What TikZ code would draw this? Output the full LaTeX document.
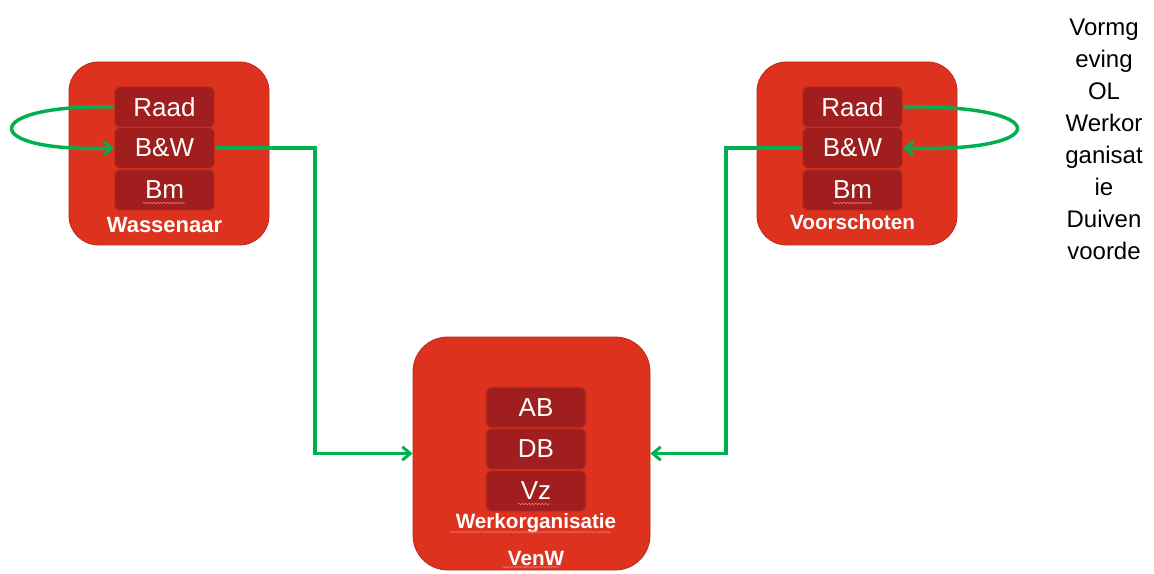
\documentclass[tikz,border=0pt]{standalone}
\usepackage{fontspec}
\setmainfont{Liberation Sans}
\usetikzlibrary{arrows.meta,decorations.pathmorphing}
\definecolor{boxred}{RGB}{220,50,30}
\definecolor{innerred}{RGB}{160,30,30}
\definecolor{linegreen}{RGB}{0,176,80}
\definecolor{wavyred}{RGB}{235,110,110}
\tikzset{
  bigbox/.style={fill=boxred, draw=boxred!85!black, line width=0.6pt, rounded corners=22pt, minimum width=150pt, minimum height=137.25pt},
  cbox/.style={fill=boxred, draw=boxred!85!black, line width=0.6pt, rounded corners=26pt, minimum width=177.75pt, minimum height=174.75pt},
  inbox/.style={fill=innerred, draw=boxred!70!innerred, line width=0.8pt, rounded corners=4.5pt, minimum width=75pt, minimum height=30.75pt, inner sep=0pt, text=white, font=\fontsize{19.5}{21}\selectfont},
  lbl/.style={text=white, font=\bfseries\fontsize{15.5}{18}\selectfont, inner sep=0pt},
  conn/.style={draw=linegreen, line width=2.6pt},
  arr/.style={-{Straight Barb[length=6pt,width=10pt,line width=2.2pt]}},
  wavy/.style={draw=wavyred, line width=0.5pt, decorate, decoration={snake, segment length=2.5pt, amplitude=0.6pt}}
}
\begin{document}
\begin{tikzpicture}[x=0.75pt,y=-0.75pt]
\useasboundingbox (0,0) rectangle (1154,574);
% big boxes
\node[bigbox] (wbox) at (169,153.5) {};
\node[bigbox] (vbox) at (857,153.5) {};
\node[cbox] (cbox) at (531.5,453.5) {};
% Wassenaar
\node[inbox] (wraad) at (164.5,107) {Raad};
\node[inbox] (wbw) at (164.5,148) {B\&W};
\node[inbox] (wbm) at (164.5,190) {Bm};
\node[lbl, font=\bfseries\fontsize{16.5}{18}\selectfont] (wlbl) at (164.5,225) {Wassenaar};
% Voorschoten
\node[inbox] (vraad) at (852.5,107) {Raad};
\node[inbox] (vbw) at (852.5,148) {B\&W};
\node[inbox] (vbm) at (852.5,190) {Bm};
\node[lbl] (vlbl) at (852.5,222) {Voorschoten};
% centre
\node[inbox] (ab) at (536,407.5) {AB};
\node[inbox] (db) at (536,449) {DB};
\node[inbox] (vz) at (536,491) {Vz};
\node[lbl] (wolbl) at (536,523) {Werkorganisatie};
\node[lbl] (venw) at (536,558) {VenW};
% wavy underlines
\draw[wavy] (143,203) -- (185,203);
\draw[wavy] (833,203) -- (872,203);
\draw[wavy] (518,504) -- (550,504);
\draw[wavy] (450,532) -- (611,532);
\draw[wavy] (502,567) -- (559,567);
% right side text
\node[align=center, font=\fontsize{18}{24}\selectfont, inner sep=0pt] (side) at (1104,139)
  {Vormg\\eving\\OL\\Werkor\\ganisat\\ie\\Duiven\\voorde};
% connectors
\coordinate (wx) at (315,300);
\coordinate (vx) at (726,300);
\draw[conn, arr] (wbw.east) -| (wx) |- (cbox.west);
\draw[conn, arr] (vbw.west) -| (vx) |- (cbox.east);
\draw[conn, arr] (wraad.west) .. controls (-22,104) and (-22,153) .. (wbw.west);
\draw[conn, arr] (vraad.east) .. controls (1055,104) and (1055,153) .. (vbw.east);
\end{tikzpicture}
\end{document}
